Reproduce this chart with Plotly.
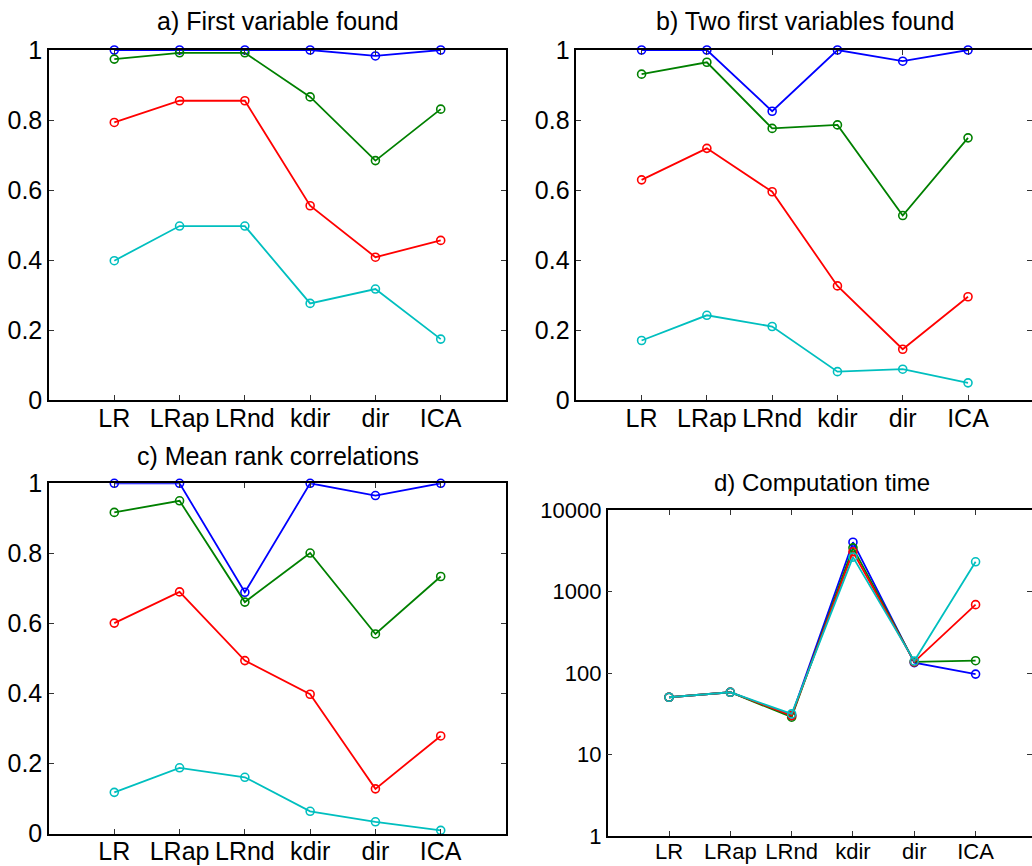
import plotly.graph_objects as go

methods = ["LR", "LRap", "LRnd", "kdir", "dir", "ICA"]
series_names = ["s1", "s2", "s3", "s4"]
colors = ["#0000FF", "#008000", "#FF0000", "#00BFBF"]

# a) First variable found
a_blue = [1.0, 1.0, 1.0, 1.0, 0.983, 1.0]
a_green = [0.974, 0.992, 0.992, 0.866, 0.684, 0.831]
a_red = [0.793, 0.855, 0.855, 0.555, 0.408, 0.456]
a_cyan = [0.398, 0.497, 0.497, 0.276, 0.317, 0.174]

# b) Two first variables found
b_blue = [1.0, 1.0, 0.825, 1.0, 0.968, 1.0]
b_green = [0.931, 0.965, 0.776, 0.786, 0.527, 0.749]
b_red = [0.629, 0.719, 0.595, 0.326, 0.145, 0.295]
b_cyan = [0.170, 0.242, 0.210, 0.081, 0.088, 0.049]

# c) Mean rank correlations
c_blue = [1.0, 1.0, 0.689, 1.0, 0.965, 1.0]
c_green = [0.917, 0.950, 0.661, 0.801, 0.570, 0.734]
c_red = [0.601, 0.690, 0.494, 0.398, 0.128, 0.279]
c_cyan = [0.118, 0.188, 0.161, 0.064, 0.034, 0.0095]

# d) Computation time
d_blue = [50.4, 58, 30, 4027, 134, 97]
d_green = [50.4, 58, 28.7, 3434, 137, 141.5]
d_red = [50.4, 58, 30, 3069, 137, 690]
d_cyan = [50.4, 58, 31.5, 2640, 140, 2316]

panels = [
    ("a) First variable found", [a_blue, a_green, a_red, a_cyan]),
    ("b) Two first variables found", [b_blue, b_green, b_red, b_cyan]),
    ("c) Mean rank correlations", [c_blue, c_green, c_red, c_cyan]),
    ("d) Computation time", [d_blue, d_green, d_red, d_cyan]),
]

W, H = 1032, 866
# plot-area pixel boxes: left, right, top, bottom, x-range end, full right edge
boxes = [
    (49, 506, 50, 400, 6.0, 506),
    (576.3, 1032, 50, 400, 5.98, 1033.6),
    (49, 506, 483.3, 833.7, 6.0, 506),
    (607.7, 1032, 510, 836, 5.92, 1036.8),
]
title_y = [21, 21, 456, 483]
tick_sizes = [25, 25, 25, 22]
title_sizes = [25, 25, 25, 24]

FONT = "Liberation Sans, Arial, sans-serif"

fig = go.Figure()
layout = dict(
    width=W, height=H,
    margin=dict(l=0, r=0, t=0, b=0, autoexpand=False),
    paper_bgcolor="white", plot_bgcolor="white",
    showlegend=False,
    font=dict(family=FONT, size=24, color="black"),
)
annotations = []
for i, ((title, data), (l, r, t, b, xr, rfull), ty) in enumerate(zip(panels, boxes, title_y)):
    n = i + 1
    xa = "x" if n == 1 else f"x{n}"
    ya = "y" if n == 1 else f"y{n}"
    common = dict(
        showgrid=False, zeroline=False, automargin=False,
        showline=True, linecolor="black", linewidth=1.5, mirror="ticks",
        ticks="inside", ticklen=5, tickwidth=1, tickcolor="#333",
        tickfont=dict(size=tick_sizes[i], family=FONT, color="black"),
    )
    for s, (vals, col) in enumerate(zip(data, colors)):
        fig.add_trace(go.Scatter(
            x=methods, y=vals, xaxis=xa, yaxis=ya,
            mode="lines+markers", name=series_names[s],
            line=dict(color=col, width=1.8),
            marker=dict(symbol="circle-open", size=8, color=col, line=dict(width=1.6, color=col)),
            cliponaxis=False,
        ))
    xkey = "xaxis" if n == 1 else f"xaxis{n}"
    ykey = "yaxis" if n == 1 else f"yaxis{n}"
    layout[xkey] = dict(
        domain=[l / W, min(r / W, 1.0)], anchor=ya,
        type="category", categoryorder="array", categoryarray=methods,
        range=[-1, xr], tickangle=0, ticklabelstandoff=-5, **common,
    )
    if n == 4:
        layout[ykey] = dict(
            domain=[1 - b / H, 1 - t / H], anchor=xa,
            type="log", range=[0, 4],
            tickvals=[1, 10, 100, 1000, 10000],
            ticktext=["1", "10", "100", "1000", "10000"],
            **common,
        )
    else:
        layout[ykey] = dict(
            domain=[1 - b / H, 1 - t / H], anchor=xa,
            range=[0, 1],
            tickvals=[0, 0.2, 0.4, 0.6, 0.8, 1],
            ticktext=["0", "0.2", "0.4", "0.6", "0.8", "1"],
            **common,
        )
    cx = (l + rfull) / 2
    annotations.append(dict(
        text=title, x=cx / W, y=1 - ty / H, xref="paper", yref="paper",
        xanchor="center", yanchor="middle", showarrow=False,
        font=dict(size=title_sizes[i], family=FONT, color="black"),
    ))
layout["annotations"] = annotations
fig.update_layout(**layout)
fig.write_html("out.html")
